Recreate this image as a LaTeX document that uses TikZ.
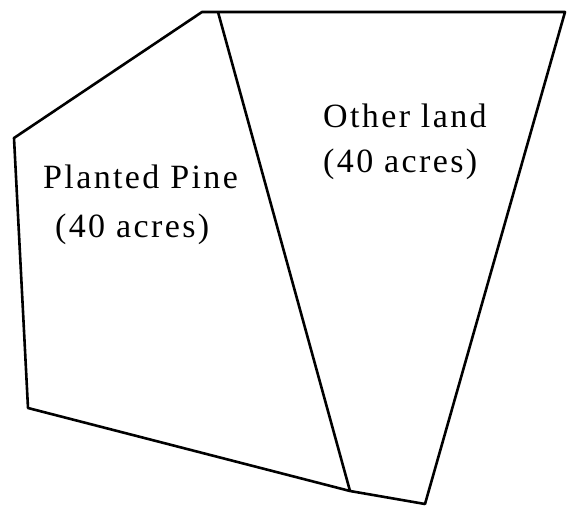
\documentclass[tikz,border=0pt]{standalone}
\usepackage{fontspec}
\setmainfont{Liberation Serif}
\begin{document}
\begin{tikzpicture}[x={(1pt,0)}, y={(0,-1pt)}, line join=round]
    \useasboundingbox (0,0) rectangle (570,508);

    \tikzset{
        boundary/.style={line width=2.6pt, black},
        plotlabel/.style={anchor=base west, inner sep=0pt,
            font=\fontsize{34}{34}\selectfont\addfontfeature{LetterSpace=7}}
    }

    \coordinate (TL) at (202,12);
    \coordinate (TR) at (565,12);
    \coordinate (BR) at (425,504);
    \coordinate (DB) at (350,491);
    \coordinate (BL) at (28,408);
    \coordinate (LU) at (14,138);
    \coordinate (DT) at (218,12);

    \draw[boundary] (TL) -- (TR) -- (BR) -- (DB) -- (BL) -- (LU) -- cycle;
    \draw[boundary] (DT) -- (DB);

    \node[plotlabel] (pine) at (43,188) {Planted Pine};
    \node[plotlabel] (pineacres) at (55,237) {(40 acres)};
    \node[plotlabel] (other) at (323,128) {Other land};
    \node[plotlabel] (otheracres) at (323,172) {(40 acres)};
\end{tikzpicture}
\end{document}
